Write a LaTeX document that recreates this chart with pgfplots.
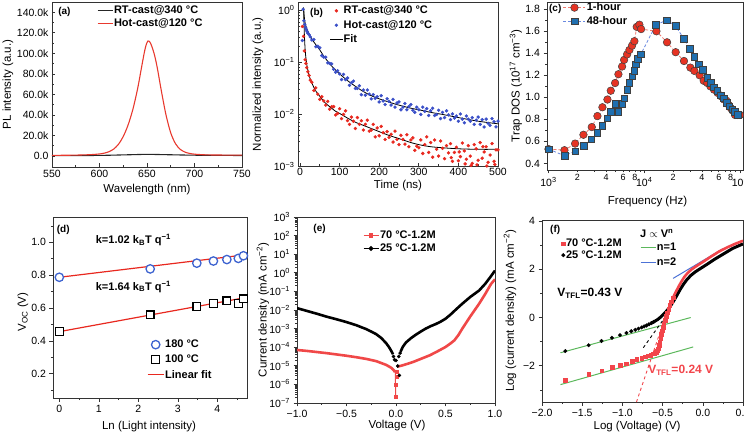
\documentclass[border=0pt]{standalone}
\usepackage{pgfplots}
\pgfplotsset{compat=1.18}
\usepackage{fontspec}
\setmainfont{Liberation Sans}
\definecolor{aRed}{HTML}{E8392E}
\definecolor{bRed}{HTML}{E8281F}
\definecolor{bBlue}{HTML}{3A4FC8}
\definecolor{cRed}{HTML}{E63323}
\definecolor{cBlue}{HTML}{1F6FB0}
\definecolor{cRedD}{HTML}{F07A70}
\definecolor{cBlueD}{HTML}{6A8AE0}
\definecolor{dBlue}{HTML}{3D63D0}
\definecolor{eRed}{HTML}{F04848}
\definecolor{fRed}{HTML}{F2454B}
\definecolor{fGreen}{HTML}{5CB85C}
\definecolor{fBlue}{HTML}{4C72D6}
\pgfplotsset{
  base/.style={
    scale only axis,
    axis line style={line width=0.8pt, black!80},
    tick style={line width=0.6pt, black!80},
    tick align=outside,
    xtick pos=left, ytick pos=left,
    major tick length=3.5pt, minor tick length=2pt,
    tick label style={font=\fontsize{10.5}{12}\selectfont},
    label style={font=\fontsize{11.5}{13}\selectfont},
    /pgf/number format/assume math mode=true,
    legend cell align=left,
  },
  leg/.style={legend style={at={#1}, anchor=north west, draw=none, fill=none, inner sep=0pt, outer sep=0pt, nodes={inner sep=0.9pt}, font=\bfseries\fontsize{11}{12}\selectfont}},
}
\tikzset{
  lab/.style={font=\bfseries\fontsize{10}{12}\selectfont, anchor=west, inner sep=0pt},
  txt/.style={font=\bfseries\fontsize{11}{12}\selectfont, anchor=west, inner sep=0pt},
}
\begin{document}
\begin{tikzpicture}[x=1pt,y=1pt]
\useasboundingbox (0,0) rectangle (744,-435);

% ---------------- (a)
\begin{axis}[base, tick align=inside, at={(52pt,-167pt)}, anchor=south west, width=190pt, height=165pt,
  xmin=550, xmax=750, ymin=-10700, ymax=150000,
  xtick={550,600,650,700,750}, minor xtick={575,625,675,725},
  ytick={0,20000,40000,60000,80000,100000,120000,140000},
  yticklabels={0.0,20.0k,40.0k,60.0k,80.0k,100.0k,120.0k,140.0k},
  minor ytick={10000,30000,50000,70000,90000,110000,130000},
  scaled y ticks=false,
  xlabel={Wavelength (nm)}, ylabel={PL intensity (a.u.)},
  xlabel style={at={(axis description cs:0.5,-0.139)}, anchor=center},
  ylabel style={at={(axis description cs:-0.232,0.5)}, anchor=center},
  leg={(0.237,0.984)}, legend style={row sep=2pt},
  legend image code/.code={\draw[#1] (0pt,0pt) -- (15pt,0pt);},
]
\addplot[black!85, line width=1.1pt, smooth] coordinates {(550,300) (600,600) (630,1200) (650,1600) (670,1300) (700,800) (750,500)};
\addlegendentry{RT-cast@340 °C}
\addplot[aRed, line width=1.1pt, smooth] coordinates {(550,600) (560,700) (570,800) (580,1000) (590,1300) (600,2000) (605,2800) (610,4200) (615,6800) (620,11500) (625,19000) (630,30000) (635,45000) (640,65000) (644,85000) (647,100000) (649,108000) (651,112000) (653,111000) (655,107000) (658,98000) (661,85000) (665,64000) (670,40000) (675,22500) (680,12000) (685,6500) (690,3800) (695,2500) (700,1800) (710,1200) (720,1000) (735,900) (750,800)};
\addlegendentry{Hot-cast@120 °C}
\node[lab] at (axis description cs:0.032,0.939) {(a)};
\end{axis}

% ---------------- (b)
\begin{axis}[base, tick align=inside, at={(298pt,-166.5pt)}, anchor=south west, width=200pt, height=164.5pt,
  xmin=-5, xmax=500, ymin=-3, ymax=0.16,
  xtick={0,100,200,300,400,500}, minor xtick={50,150,250,350,450},
  xticklabel style={yshift=2pt},
  ytick={-3,-2,-1,0},
  yticklabels={10\textsuperscript{−3},10\textsuperscript{−2},10\textsuperscript{−1},10\textsuperscript{0}},
  minor ytick={-2.699,-2.523,-2.398,-2.301,-2.222,-2.155,-2.097,-2.046,-1.699,-1.523,-1.398,-1.301,-1.222,-1.155,-1.097,-1.046,-0.699,-0.523,-0.398,-0.301,-0.222,-0.155,-0.097,-0.046},
  xlabel={Time (ns)}, ylabel={Normalized intensity (a.u.)},
  xlabel style={at={(axis description cs:0.5,-0.118)}, anchor=center},
  ylabel style={at={(axis description cs:-0.201,0.5)}, anchor=center},
  leg={(0.16,0.98)}, legend style={row sep=3.3pt},
  legend image code/.code={\draw[mark repeat=2,mark phase=2,#1] plot coordinates {(0pt,0pt) (6pt,0pt) (12pt,0pt)};},
]
\addplot[only marks, mark=*, mark size=1.5pt, bRed, mark options={draw=bRed, fill=bRed}] coordinates {
(6,-0.31) (9,-0.50) (11,-0.78) (13,-0.95) (15,-1.02) (17,-1.10) (20,-1.18) (23,-1.25) (26,-1.34)
(30,-1.38) (35,-1.54) (40,-1.49) (45,-1.61) (50,-1.71) (55,-1.66) (60,-1.74) (65,-1.82) (70,-1.75) (75,-1.90)
(80,-1.85) (85,-1.85) (90,-2.01) (95,-1.98) (100,-1.89) (105,-2.08) (110,-2.00) (115,-1.93) (120,-2.12) (125,-2.19)
(130,-2.05) (135,-2.13) (140,-2.27) (145,-2.06) (150,-2.19) (155,-2.12) (160,-2.30) (165,-2.19) (170,-2.11) (175,-2.32)
(180,-2.30) (185,-2.19) (190,-2.43) (195,-2.26) (200,-2.41) (205,-2.23) (210,-2.35) (215,-2.48) (220,-2.33) (225,-2.44)
(230,-2.38) (235,-2.53) (240,-2.32) (245,-2.48) (250,-2.58) (255,-2.40) (260,-2.48) (265,-2.57) (270,-2.39) (275,-2.62)
(280,-2.49) (285,-2.45) (290,-2.69) (295,-2.61) (300,-2.64) (305,-2.49) (310,-2.75) (315,-2.58) (320,-2.43) (325,-2.73)
(330,-2.54) (335,-2.82) (340,-2.49) (345,-2.67) (350,-2.80) (355,-2.51) (360,-2.65) (365,-2.85) (370,-2.60) (375,-2.74)
(380,-2.56) (385,-2.90) (390,-2.73) (395,-2.63) (400,-2.89) (405,-2.81) (410,-2.55) (415,-2.70) (420,-2.86) (425,-2.60)
(430,-2.80) (435,-2.94) (440,-2.58) (445,-2.66) (450,-2.88) (455,-2.54) (460,-2.84) (465,-2.72) (470,-2.62) (475,-2.92)
(480,-2.78) (485,-2.56) (490,-2.90) (495,-2.68) (500,-2.68)
(432,-2.98) (447,-2.97) (462,-2.62) (472,-2.99) (492,-2.96) (417,-2.95) (402,-2.72) (382,-2.83)};
\addlegendentry{RT-cast@340 °C}
\addplot[only marks, mark=*, mark size=1.5pt, bBlue, mark options={draw=bBlue, fill=bBlue}] coordinates {
(6,-0.58) (8,0.02) (10,-0.2) (12,-0.27) (14,-0.33) (16,-0.37) (18,-0.41) (20,-0.44) (23,-0.47) (26,-0.51)
(30,-0.57) (35,-0.56) (40,-0.70) (45,-0.69) (50,-0.72) (55,-0.87) (60,-0.90) (65,-0.90) (70,-1.01) (75,-1.02)
(80,-1.03) (85,-1.13) (90,-1.19) (95,-1.16) (100,-1.22) (105,-1.33) (110,-1.23) (115,-1.33) (120,-1.30) (125,-1.44)
(130,-1.39) (135,-1.36) (140,-1.50) (145,-1.50) (150,-1.45) (155,-1.62) (160,-1.53) (165,-1.63) (170,-1.53) (175,-1.61)
(180,-1.70) (185,-1.62) (190,-1.69) (195,-1.66) (200,-1.76) (205,-1.64) (210,-1.74) (215,-1.81) (220,-1.70) (225,-1.75)
(230,-1.82) (235,-1.71) (240,-1.86) (245,-1.78) (250,-1.76) (255,-1.91) (260,-1.86) (265,-1.79) (270,-1.91) (275,-1.85)
(280,-1.81) (285,-1.92) (290,-1.96) (295,-1.86) (300,-1.91) (305,-2.00) (310,-1.86) (315,-1.94) (320,-1.89) (325,-2.02)
(330,-1.93) (335,-1.88) (340,-2.02) (345,-2.00) (350,-1.92) (355,-2.08) (360,-1.96) (365,-2.06) (370,-1.93) (375,-2.01)
(380,-2.10) (385,-1.99) (390,-2.07) (395,-2.03) (400,-2.13) (405,-1.99) (410,-2.09) (415,-2.16) (420,-2.03) (425,-2.09)
(430,-2.13) (435,-2.06) (440,-2.19) (445,-2.11) (450,-2.05) (455,-2.19) (460,-2.10) (465,-2.24) (470,-2.09) (475,-2.17)
(480,-2.21) (485,-2.08) (490,-2.14) (495,-2.24) (500,-2.13)};
\addlegendentry{Hot-cast@120 °C}
\addplot[black, line width=0.8pt, smooth] coordinates {(9,0.05) (11,-0.45) (13,-0.75) (15,-0.92) (18,-1.08) (20,-1.15) (25,-1.3) (30,-1.4) (40,-1.55) (50,-1.65) (60,-1.75) (70,-1.82) (80,-1.88) (90,-1.94) (100,-1.98) (120,-2.07) (140,-2.15) (160,-2.21) (180,-2.27) (200,-2.33) (220,-2.39) (240,-2.44) (260,-2.49) (280,-2.54) (300,-2.58) (330,-2.62) (360,-2.64) (400,-2.66) (450,-2.67) (500,-2.67)};
\addlegendentry{Fit}
\addplot[black, line width=0.8pt, smooth, forget plot] coordinates {(9,0.05) (10,-0.05) (12,-0.2) (15,-0.3) (20,-0.4) (30,-0.55) (40,-0.66) (50,-0.76) (60,-0.88) (70,-0.98) (80,-1.07) (90,-1.15) (100,-1.22) (120,-1.35) (140,-1.46) (160,-1.56) (180,-1.64) (200,-1.70) (240,-1.80) (280,-1.88) (300,-1.91) (330,-1.96) (360,-2.0) (400,-2.06) (450,-2.13) (500,-2.18)};
\node[lab] at (axis description cs:0.06,0.936) {(b)};
\end{axis}

% ---------------- (c)
\begin{axis}[base, at={(547pt,-170pt)}, anchor=south west, width=196pt, height=168pt,
  xmode=log, xmin=965, xmax=107500, ymin=0.34, ymax=1.866,
  xtick={1000,10000,100000}, xticklabels={10\textsuperscript{3},10\textsuperscript{4},10\textsuperscript{5}},
  extra x ticks={2000,4000,6000,8000,20000,40000,60000,80000},
  extra x tick labels={2,4,6,8,2,4,6,8},
  extra x tick style={major tick length=2.5pt, xticklabel style={font=\fontsize{9}{10}\selectfont, yshift=2pt}},
  minor xtick={3000,5000,7000,9000,30000,50000,70000,90000},
  ytick={0.4,0.6,0.8,1.0,1.2,1.4,1.6,1.8}, yticklabels={0.4,0.6,0.8,1.0,1.2,1.4,1.6,1.8},
  minor ytick={0.5,0.7,0.9,1.1,1.3,1.5,1.7},
  xlabel={Frequency (Hz)}, ylabel={Trap DOS (10\textsuperscript{17} cm\textsuperscript{−3})},
  xlabel style={at={(axis description cs:0.513,-0.185)}, anchor=center},
  ylabel style={at={(axis description cs:-0.159,0.5)}, anchor=center},
  leg={(0.082,1.0)}, legend style={row sep=2.5pt},
  legend image code/.code={\draw[mark repeat=2,mark phase=2,#1] plot coordinates {(0pt,0pt) (11pt,0pt) (22pt,0pt)};},
]
\addplot[cRedD, densely dashed, line width=0.8pt, mark=*, mark size=3.8pt, mark options={solid, fill=cRed, draw=black!75, line width=0.5pt}] coordinates {
(1000,0.53) (1468,0.52) (1897,0.58) (2318,0.66) (2832,0.73) (3245,0.83) (3660,0.91) (4127,0.98) (4470,1.06) (4963,1.13)
(5375,1.21) (5870,1.28) (6160,1.34) (6620,1.39) (7000,1.43) (7460,1.47) (7890,1.51) (8350,1.64) (8900,1.66) (9270,1.62)
(13400,1.60) (17300,1.50) (21300,1.41) (26000,1.33) (30300,1.27) (33400,1.24) (37900,1.20) (41800,1.15) (45600,1.13) (49000,1.10)
(53500,1.07) (58500,1.04) (63400,1.01) (68100,0.98) (72000,0.97) (76700,0.93) (80500,0.90) (83800,0.88) (88700,0.84) (94600,0.84) (100000,0.84)};
\addlegendentry{1-hour}
\addplot[cBlueD, densely dashed, line width=0.8pt, mark=square*, mark size=3.3pt, mark options={solid, fill=cBlue, draw=black!75, line width=0.5pt}] coordinates {
(1000,0.53) (1468,0.47) (1897,0.51) (2330,0.56) (2790,0.62) (3245,0.68) (3660,0.74) (4127,0.81) (4470,0.87) (4963,0.94)
(5375,0.87) (5870,0.94) (6180,0.99) (6620,1.07) (7000,1.13) (7460,1.19) (7830,1.24) (8200,1.30) (8600,1.35) (9200,1.39)
(13250,1.66) (17200,1.70) (21200,1.65) (26000,1.53) (29800,1.44) (33400,1.37) (37300,1.30) (41000,1.25) (45600,1.18) (49700,1.13)
(53500,1.09) (58000,1.06) (62900,1.02) (67500,0.99) (72500,0.95) (77000,0.92) (83000,0.89) (88700,0.87) (95200,0.84)};
\addlegendentry{48-hour}
\node[lab] at (axis description cs:0.01,0.957) {(c)};
\end{axis}

% ---------------- (d)
\begin{axis}[base, at={(53pt,-398pt)}, anchor=south west, width=194pt, height=181pt,
  xmin=-0.16, xmax=4.75, ymin=0.052, ymax=1.154,
  xtick={0,1,2,3,4}, minor xtick={0.5,1.5,2.5,3.5,4.5},
  ytick={0.2,0.4,0.6,0.8,1.0}, yticklabels={0.2,0.4,0.6,0.8,1.0},
  minor ytick={0.1,0.3,0.5,0.7,0.9,1.1},
  xlabel={Ln (Light intensity)}, ylabel={V\textsubscript{OC} (V)},
  xlabel style={at={(axis description cs:0.495,-0.155)}, anchor=center},
  ylabel style={at={(axis description cs:-0.155,0.475)}, anchor=center},
  leg={(0.485,0.325)}, legend style={row sep=4pt},
  legend image code/.code={\draw[mark repeat=2,mark phase=2,#1] plot coordinates {(0pt,0pt) (8pt,0pt) (16pt,0pt)};},
]
\addplot[bRed, line width=1.2pt, forget plot] coordinates {(0,0.787) (4.75,0.925)};
\addplot[bRed, line width=1.2pt, forget plot] coordinates {(0,0.456) (4.75,0.665)};
\addplot[only marks, mark=*, mark size=4.2pt, mark options={draw=dBlue, fill=white, line width=1.3pt}] coordinates {(0,0.787) (2.30,0.838) (3.48,0.873) (3.90,0.886) (4.24,0.895) (4.53,0.902) (4.66,0.918)};
\addlegendentry{180 °C}
\addplot[only marks, mark=square*, mark size=3.9pt, mark options={draw=black, fill=white, line width=1.2pt}] coordinates {(0,0.456) (2.30,0.558) (3.48,0.609) (3.90,0.629) (4.24,0.643) (4.53,0.629) (4.66,0.655)};
\addlegendentry{100 °C}
\addlegendimage{bRed, line width=1.2pt}
\addlegendentry{Linear fit}
\node[lab] at (axis description cs:0.019,0.928) {(d)};
\node[txt] at (axis description cs:0.22,0.873) {k=1.02 k\textsubscript{B}T q\textsuperscript{−1}};
\node[txt] at (axis description cs:0.22,0.615) {k=1.64 k\textsubscript{B}T q\textsuperscript{−1}};
\end{axis}

% ---------------- (e)
\begin{axis}[base, at={(297pt,-403pt)}, anchor=south west, width=198pt, height=186pt,
  xmin=-1, xmax=1, ymin=-7, ymax=3,
  xtick={-1,-0.5,0,0.5,1}, xticklabels={−1.0,−0.5,0.0,0.5,1.0}, minor xtick={-0.75,-0.25,0.25,0.75},
  ytick={-7,-6,-5,-4,-3,-2,-1,0,1,2,3},
  yticklabels={10\textsuperscript{−7},10\textsuperscript{−6},10\textsuperscript{−5},10\textsuperscript{−4},10\textsuperscript{−3},10\textsuperscript{−2},10\textsuperscript{−1},10\textsuperscript{0},10\textsuperscript{1},10\textsuperscript{2},10\textsuperscript{3}},
  minor ytick={-6.699,-6.523,-6.398,-6.301,-6.222,-6.155,-6.097,-6.046,-5.699,-5.523,-5.398,-5.301,-5.222,-5.155,-5.097,-5.046,-4.699,-4.523,-4.398,-4.301,-4.222,-4.155,-4.097,-4.046,-3.699,-3.523,-3.398,-3.301,-3.222,-3.155,-3.097,-3.046,-2.699,-2.523,-2.398,-2.301,-2.222,-2.155,-2.097,-2.046,-1.699,-1.523,-1.398,-1.301,-1.222,-1.155,-1.097,-1.046,-0.699,-0.523,-0.398,-0.301,-0.222,-0.155,-0.097,-0.046,0.301,0.477,0.602,0.699,0.778,0.845,0.903,0.954,1.301,1.477,1.602,1.699,1.778,1.845,1.903,1.954,2.301,2.477,2.602,2.699,2.778,2.845,2.903,2.954},
  xlabel={Voltage (V)}, ylabel={Current density (mA cm\textsuperscript{−2})},
  xlabel style={at={(axis description cs:0.505,-0.123)}, anchor=center},
  ylabel style={at={(axis description cs:-0.172,0.5)}, anchor=center},
  leg={(0.333,0.93)}, legend style={row sep=2pt},
  legend image code/.code={\draw[mark repeat=2,mark phase=2,#1] plot coordinates {(0pt,0pt) (7.5pt,0pt) (15pt,0pt)};},
]
\addplot[eRed, line width=2.6pt, forget plot] coordinates {(-1,-4.15) (-0.9,-4.2) (-0.8,-4.26) (-0.7,-4.32) (-0.6,-4.39) (-0.5,-4.46) (-0.4,-4.54) (-0.3,-4.63) (-0.2,-4.75) (-0.1,-4.95) (-0.05,-5.1) (-0.02,-5.25) (-0.01,-5.35)};
\addplot[eRed, line width=1pt, forget plot] coordinates {(-0.006,-5.3) (-0.004,-6.7)};
\addplot[eRed, only marks, mark=square*, mark size=1.5pt, forget plot] coordinates {(-0.004,-6.68) (0.0,-6.0) (0.002,-5.6) (0.006,-5.3)};
\addplot[eRed, line width=2.6pt, forget plot] coordinates {(0.01,-5.05) (0.05,-5.0) (0.1,-4.92) (0.17,-4.8) (0.25,-4.63) (0.34,-4.44) (0.42,-4.22) (0.5,-3.99) (0.55,-3.8) (0.59,-3.63) (0.63,-3.35) (0.67,-3.0) (0.75,-2.35) (0.84,-1.66) (0.9,-1.15) (0.96,-0.6) (1.0,-0.35)};
\addlegendimage{eRed, line width=1.2pt, mark=square*, mark size=1.8pt}
\addlegendentry{70 °C-1.2M}
\addplot[black, line width=2.6pt, forget plot] coordinates {(-1.0,-1.90) (-0.9,-2.05) (-0.8,-2.2) (-0.7,-2.36) (-0.6,-2.5) (-0.5,-2.65) (-0.4,-2.82) (-0.3,-3.03) (-0.25,-3.16) (-0.2,-3.3) (-0.15,-3.5) (-0.1,-3.78) (-0.07,-4.0) (-0.05,-4.18) (-0.03,-4.38)};
\addplot[black, only marks, mark=*, mark size=1.6pt, forget plot] coordinates {(-0.025,-4.5) (-0.015,-4.68) (0.0,-4.72) (0.017,-5.01) (0.027,-4.5) (0.034,-5.52) (0.042,-4.32)};
\addplot[black, line width=2.6pt, forget plot] coordinates {(0.045,-4.25) (0.07,-3.97) (0.1,-3.75) (0.15,-3.52) (0.2,-3.33) (0.25,-3.16) (0.3,-3.0) (0.35,-2.87) (0.4,-2.76) (0.45,-2.63) (0.5,-2.47) (0.55,-2.25) (0.6,-2.0) (0.67,-1.66) (0.75,-1.3) (0.84,-0.95) (0.9,-0.6) (0.95,-0.25) (1.0,0.12)};
\addlegendimage{black, line width=1.2pt, mark=*, mark size=1.8pt}
\addlegendentry{25 °C-1.2M}
\node[lab] at (axis description cs:0.082,0.935) {(e)};
\end{axis}

% ---------------- (f) lines
\begin{axis}[base, at={(542pt,-402pt)}, anchor=south west, width=201pt, height=182pt,
  xmin=-2, xmax=0.5, ymin=-3.5, ymax=4.04,
  xtick={-2,-1.5,-1,-0.5,0,0.5}, xticklabels={−2.0,−1.5,−1.0,−0.5,0.0,0.5},
  minor xtick={-1.75,-1.25,-0.75,-0.25,0.25},
  ytick={-2,0,2,4}, yticklabels={−2,0,2,4}, minor ytick={-3,-1,1,3},
  xlabel={Log (Voltage) (V)}, ylabel={Log (current density) (mA cm\textsuperscript{−2})},
  xlabel style={at={(axis description cs:0.473,-0.137)}, anchor=center},
  ylabel style={at={(axis description cs:-0.159,0.5)}, anchor=center},
  leg={(0.4876,0.88)}, legend style={row sep=4.5pt},
  legend image code/.code={\draw[#1] (0pt,0pt) -- (15pt,0pt);},
]
\addplot[fGreen, line width=1pt] coordinates {(-1.77,-1.46) (-0.15,0.0)};
\addlegendentry{n=1}
\addplot[fGreen, line width=1pt, forget plot] coordinates {(-1.77,-2.78) (-0.12,-1.22)};
\addplot[fBlue, line width=1pt] coordinates {(-0.37,1.62) (0.25,2.85)};
\addlegendentry{n=2}
\addplot[black, dashed, line width=0.9pt, forget plot] coordinates {(-0.74,-1.25) (-0.45,0.1)};
\addplot[fRed, dashed, line width=0.9pt, forget plot] coordinates {(-0.825,-3.5) (-0.47,0.0)};
\node[lab] at (axis description cs:0.04,0.945) {(f)};
\node[txt] at (axis cs:-0.782,3.5) {J $\propto$ V\textsuperscript{n}};
\node[txt, font=\bfseries\fontsize{12}{13}\selectfont] at (axis cs:-1.81,1.0) {V\textsubscript{TFL}=0.43 V};
\node[txt, font=\bfseries\fontsize{12}{13}\selectfont, text=fRed] at (axis cs:-0.68,-2.18) {V\textsubscript{TFL}=0.24 V};
\end{axis}

% ---------------- (f) data
\begin{axis}[base, hide axis, at={(542pt,-402pt)}, anchor=south west, width=201pt, height=182pt,
  xmin=-2, xmax=0.5, ymin=-3.5, ymax=4.04,
  leg={(0.097,0.9)}, legend style={row sep=0.5pt},
  legend image code/.code={\draw[#1] plot coordinates {(3pt,0pt)};},
]
\addplot[fRed, only marks, mark=square*, mark size=1.8pt] coordinates {
(-1.71,-2.6) (-1.42,-2.36) (-1.26,-2.2) (-1.13,-2.07) (-1.03,-1.97) (-0.95,-1.91) (-0.88,-1.81) (-0.82,-1.73) (-0.76,-1.68) (-0.72,-1.62)
(-0.68,-1.58) (-0.65,-1.55) (-0.62,-1.5) (-0.6,-1.47) (-0.58,-1.43) (-0.565,-1.38) (-0.555,-1.3) (-0.545,-1.15) (-0.535,-1.0) (-0.525,-0.85)
(-0.515,-0.7) (-0.505,-0.55) (-0.495,-0.4) (-0.485,-0.25) (-0.47,-0.1) (-0.455,0.05) (-0.44,0.2) (-0.425,0.35) (-0.41,0.5) (-0.39,0.65) (-0.37,0.82)};
\addlegendentry{70 °C-1.2M}
\addplot[black, only marks, mark=*, mark size=1.8pt] coordinates {
(-1.71,-1.39) (-1.42,-1.15) (-1.26,-0.97) (-1.13,-0.84) (-1.03,-0.73) (-0.95,-0.64) (-0.89,-0.57) (-0.84,-0.51) (-0.8,-0.46) (-0.76,-0.41)
(-0.73,-0.37) (-0.7,-0.33) (-0.67,-0.28) (-0.64,-0.23) (-0.61,-0.18)};
\addlegendentry{25 °C-1.2M}
\addplot[black, line width=3pt, forget plot] coordinates {(-0.64,-0.23) (-0.6,-0.16) (-0.56,-0.08) (-0.52,0.03) (-0.48,0.16) (-0.44,0.31) (-0.4,0.49) (-0.36,0.7) (-0.32,0.93) (-0.28,1.17) (-0.24,1.38) (-0.2,1.56) (-0.15,1.74) (-0.09,1.9) (-0.02,2.05) (0.06,2.22) (0.15,2.42) (0.25,2.62) (0.37,2.86) (0.5,3.05)};
\addplot[fRed, line width=2.6pt, forget plot] coordinates {(-0.37,0.82) (-0.35,0.97) (-0.33,1.1) (-0.31,1.22) (-0.29,1.35) (-0.26,1.52) (-0.23,1.68) (-0.19,1.84) (-0.14,1.99) (-0.08,2.13) (0.0,2.3) (0.1,2.52) (0.2,2.73) (0.3,2.9) (0.4,3.05) (0.5,3.18)};
\end{axis}
\end{tikzpicture}
\end{document}
